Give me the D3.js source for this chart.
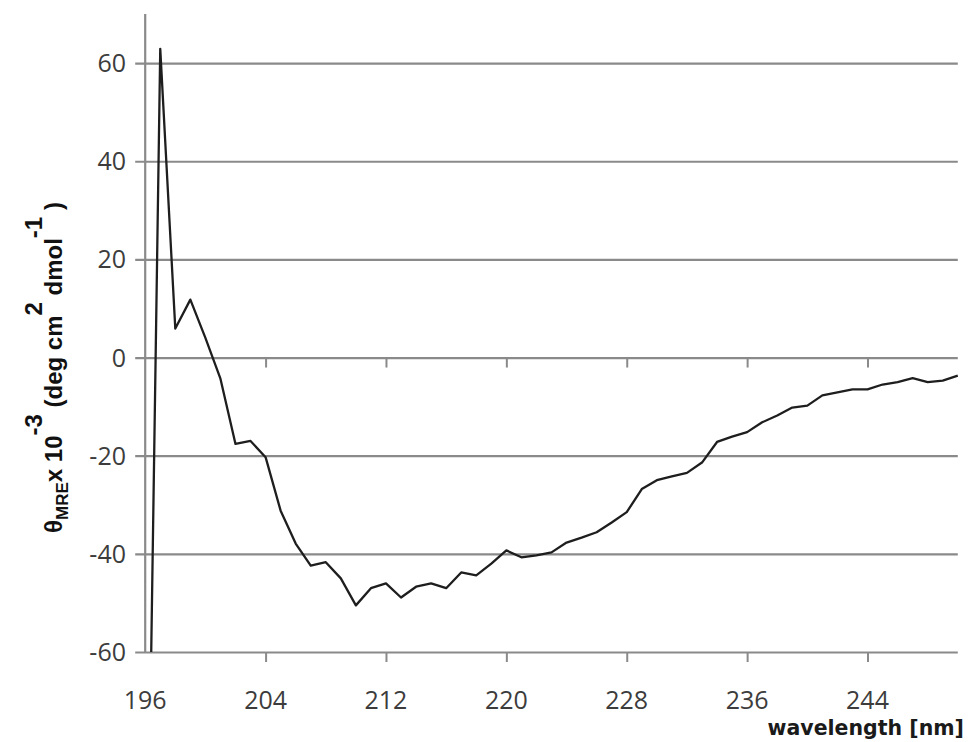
<!DOCTYPE html>
<html>
<head>
<meta charset="utf-8">
<script src="https://cdn.jsdelivr.net/npm/d3@7"></script>
<style>
  html, body { margin: 0; padding: 0; background: #fff; }
  svg { display: block; }
</style>
</head>
<body>
<svg id="chart" width="968" height="742"></svg>
<script>
// CD spectrum: mean residue ellipticity vs wavelength
const wavelengths = [196,197,198,199,200,201,202,203,204,205,206,207,208,209,210,
  211,212,213,214,215,216,217,218,219,220,221,222,223,224,225,226,227,228,229,230,
  231,232,233,234,235,236,237,238,239,240,241,242,243,244,245,246,247,248,249,250];
const ellipticity = [-142,62.9,5.9,11.8,4,-4.3,-17.6,-17,-20.3,-31.2,-37.9,-42.4,-41.7,-45,-50.5,
  -47,-46,-48.9,-46.7,-46,-47,-43.8,-44.4,-42,-39.3,-40.7,-40.3,-39.7,-37.7,-36.7,-35.6,-33.6,-31.5,-26.8,-25,
  -24.2,-23.5,-21.4,-17.2,-16.1,-15.2,-13.2,-11.8,-10.2,-9.8,-7.7,-7.1,-6.5,-6.5,-5.5,-5,-4.2,-5,-4.7,-3.7];
const xTicks = [196,204,212,220,228,236,244];
const yTicks = [-60,-40,-20,0,20,40,60];

const svg = d3.select("#chart");
const x = d3.scaleLinear().domain([196, 250]).range([145.2, 957.8]);
const y = d3.scaleLinear().domain([-60, 70]).range([652, 14]);

const gridColor = "#8a8a8a";
const tickFont = "'Open Sans', sans-serif";

// horizontal gridlines (with short ticks left of the axis)
svg.append("g")
  .attr("transform", `translate(${x(196)},0)`)
  .call(d3.axisLeft(y).tickValues(yTicks).tickSize(-(x(250) - x(196))).tickFormat(""))
  .call(g => g.select(".domain").remove())
  .call(g => g.selectAll(".tick line").attr("stroke", gridColor).attr("stroke-width", 2.2)
    .attr("x1", -10));

// y tick labels
svg.append("g").selectAll("text").data(yTicks).join("text")
  .attr("x", 126).attr("y", d => y(d)).attr("dy", "0.36em")
  .attr("text-anchor", "end")
  .attr("font-family", tickFont).attr("font-size", 25).attr("fill", "#3c3c3c")
  .text(d => d);

// vertical axis line
svg.append("line")
  .attr("x1", x(196)).attr("x2", x(196)).attr("y1", y(70)).attr("y2", y(-60))
  .attr("stroke", gridColor).attr("stroke-width", 2.2);

// category ticks on the zero line and on the bottom line
[0, -60].forEach(v => {
  svg.append("g")
    .attr("transform", `translate(0,${y(v)})`)
    .call(d3.axisBottom(x).tickValues(xTicks.slice(1)).tickSize(10).tickFormat(""))
    .call(g => g.select(".domain").remove())
    .call(g => g.selectAll(".tick line").attr("stroke", gridColor).attr("stroke-width", 2));
});

// x tick labels
svg.append("g").selectAll("text").data(xTicks).join("text")
  .attr("x", d => x(d)).attr("y", 709)
  .attr("text-anchor", "middle")
  .attr("font-family", tickFont).attr("font-size", 25).attr("fill", "#3c3c3c")
  .text(d => d);

// data line, clipped to the plot area
svg.append("clipPath").attr("id", "plot-clip")
  .append("rect").attr("x", x(196)).attr("y", y(70))
  .attr("width", x(250) - x(196) + 4).attr("height", y(-60) - y(70));

const line = d3.line().x((d, i) => x(wavelengths[i])).y(d => y(d));
svg.append("path")
  .datum(ellipticity)
  .attr("clip-path", "url(#plot-clip)")
  .attr("d", line)
  .attr("fill", "none").attr("stroke", "#1e1e1e").attr("stroke-width", 2.3)
  .attr("stroke-linejoin", "round");

// x axis title
svg.append("text")
  .attr("x", 964).attr("y", 735).attr("text-anchor", "end")
  .attr("font-family", "'DejaVu Sans', sans-serif").attr("font-weight", "bold")
  .attr("font-size", 20.5).attr("fill", "#1a1a1a")
  .text("wavelength [nm]");

// y axis title with sub/superscripts
const yt = svg.append("text")
  .attr("transform", "translate(62,533) rotate(-90)")
  .attr("font-family", "'Liberation Sans', Arial, sans-serif").attr("font-weight", "bold")
  .attr("font-size", 24).attr("fill", "#111");
yt.append("tspan").text("θ");
yt.append("tspan").attr("font-size", 17).attr("dy", 6).text("MRE");
yt.append("tspan").attr("dy", -6).text("x 10");
yt.append("tspan").attr("dy", -20).text("-3");
yt.append("tspan").attr("dy", 20).text(" (deg cm");
yt.append("tspan").attr("dy", -20).text("2");
yt.append("tspan").attr("dy", 20).text(" dmol");
yt.append("tspan").attr("dy", -20).text("-1");
yt.append("tspan").attr("dy", 20).text(" )");
</script>
</body>
</html>
